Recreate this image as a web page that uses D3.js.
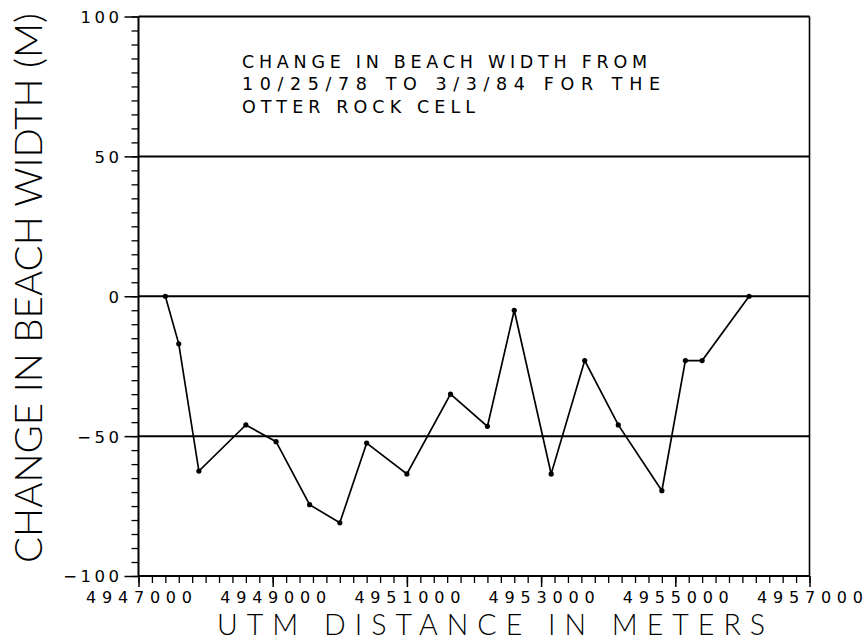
<!DOCTYPE html>
<html>
<head>
<meta charset="utf-8">
<script src="https://cdn.jsdelivr.net/npm/d3@7"></script>
<style>
  html, body { margin: 0; padding: 0; background: #fff; }
  svg { display: block; }
  text { fill: #000; }
</style>
</head>
<body>
<svg id="chart" width="867" height="641"></svg>
<script>
// ---- data ----
const utmDistance = [4947400, 4947600, 4947900, 4948600, 4949050, 4949550, 4950000, 4950400,
                     4951000, 4951650, 4952200, 4952600, 4953150, 4953650, 4954150, 4954800,
                     4955150, 4955400, 4956100];
const widthChange = [0, -17, -62.5, -46, -52, -74.5, -81, -52.5,
                     -63.5, -35, -46.5, -5, -63.5, -23, -46, -69.5,
                     -23, -23, 0];
const xTickValues = [4947000, 4949000, 4951000, 4953000, 4955000, 4957000];
const yTickValues = [-100, -50, 0, 50, 100];
const gridValues = [-50, 0, 50, 100];
const noteLines = ["CHANGE IN BEACH WIDTH FROM", "10/25/78 TO 3/3/84 FOR THE", "OTTER ROCK CELL"];
const xTitle = "UTM DISTANCE IN METERS";
const yTitle = "CHANGE IN BEACH WIDTH (M)";

// ---- layout ----
const L = 138.5, R = 809.5, T = 16.5, B = 576;
const svg = d3.select("#chart");
const x = d3.scaleLinear().domain([4947000, 4957000]).range([L, R]);
const y = d3.scaleLinear().domain([-100, 100]).range([B, T]);
const smallFont = "'DejaVu Sans', 'Liberation Sans', Arial, sans-serif";
const titleFont = "Lato, Roboto, 'Liberation Sans', Arial, sans-serif";

// minor ticks
const xMinor = d3.range(4947000, 4957001, 200);
const yMinor = d3.range(-100, 101, 5);

const gx = svg.append("g").attr("transform", `translate(0,${B})`)
  .call(d3.axisBottom(x).tickValues(xMinor).tickSize(7).tickFormat(""));
gx.select(".domain").remove();
gx.selectAll("line").attr("stroke", "#000").attr("stroke-width", 1.3);

const gxMaj = svg.append("g").attr("transform", `translate(0,${B})`)
  .call(d3.axisBottom(x).tickValues(xTickValues).tickSize(11).tickPadding(4)
        .tickFormat(d3.format("d")));
gxMaj.select(".domain").remove();
gxMaj.selectAll("line").attr("stroke", "#000").attr("stroke-width", 1.5);
gxMaj.selectAll("text")
  .attr("font-family", smallFont).attr("font-size", 16)
  .attr("y", null).attr("dy", null)
  .attr("transform", "translate(0,26.5)")
  .attr("textLength", 106).attr("lengthAdjust", "spacing");

const gy = svg.append("g").attr("transform", `translate(${L},0)`)
  .call(d3.axisLeft(y).tickValues(yMinor).tickSize(7).tickFormat(""));
gy.select(".domain").remove();
gy.selectAll("line").attr("stroke", "#000").attr("stroke-width", 1.3);

const gyMaj = svg.append("g").attr("transform", `translate(${L},0)`)
  .call(d3.axisLeft(y).tickValues(yTickValues).tickSize(14).tickPadding(5)
        .tickFormat(d => d < 0 ? "\u2212" + Math.abs(d) : String(d)));
gyMaj.select(".domain").remove();
gyMaj.selectAll("line").attr("stroke", "#000").attr("stroke-width", 1.5);
gyMaj.selectAll("text")
  .attr("font-family", smallFont).attr("font-size", 16.5)
  .attr("dy", "0.36em")
  .attr("letter-spacing", 3.5)
  .attr("x", -16);

// grid lines and frame
svg.append("g").selectAll("line").data(gridValues).join("line")
  .attr("x1", L).attr("x2", R).attr("y1", d => y(d)).attr("y2", d => y(d))
  .attr("stroke", "#000").attr("stroke-width", 2);
svg.append("line").attr("x1", L).attr("x2", L).attr("y1", T).attr("y2", B)
  .attr("stroke", "#000").attr("stroke-width", 2);
svg.append("line").attr("x1", L).attr("x2", R).attr("y1", B).attr("y2", B)
  .attr("stroke", "#000").attr("stroke-width", 2);
svg.append("line").attr("x1", R).attr("x2", R).attr("y1", T).attr("y2", B)
  .attr("stroke", "#000").attr("stroke-width", 1.6);

// data line
const pts = utmDistance.map((d, i) => [d, widthChange[i]]);
svg.append("path").datum(pts)
  .attr("fill", "none").attr("stroke", "#000").attr("stroke-width", 1.7)
  .attr("d", d3.line().x(d => x(d[0])).y(d => y(d[1])));
svg.append("g").selectAll("circle").data(pts).join("circle")
  .attr("cx", d => x(d[0])).attr("cy", d => y(d[1])).attr("r", 2.6).attr("fill", "#000");

// annotation
const noteLens = [405, 418, 233];
svg.append("g").selectAll("text").data(noteLines).join("text")
  .attr("x", 242).attr("y", (d, i) => 68 + i * 22.3)
  .attr("font-family", smallFont).attr("font-size", 17.5)
  .attr("textLength", (d, i) => noteLens[i]).attr("lengthAdjust", "spacing")
  .text(d => d);

// axis titles
svg.append("text")
  .attr("x", 491).attr("y", 635).attr("text-anchor", "middle")
  .attr("font-family", titleFont).attr("font-size", 28.5).attr("font-weight", 300)
  .attr("textLength", 548).attr("lengthAdjust", "spacing")
  .text(xTitle);
svg.append("text")
  .attr("transform", "translate(42,288) rotate(-90)").attr("text-anchor", "middle")
  .attr("font-family", titleFont).attr("font-size", 37).attr("font-weight", 300)
  .attr("textLength", 550).attr("lengthAdjust", "spacingAndGlyphs")
  .text(yTitle);
</script>
</body>
</html>
